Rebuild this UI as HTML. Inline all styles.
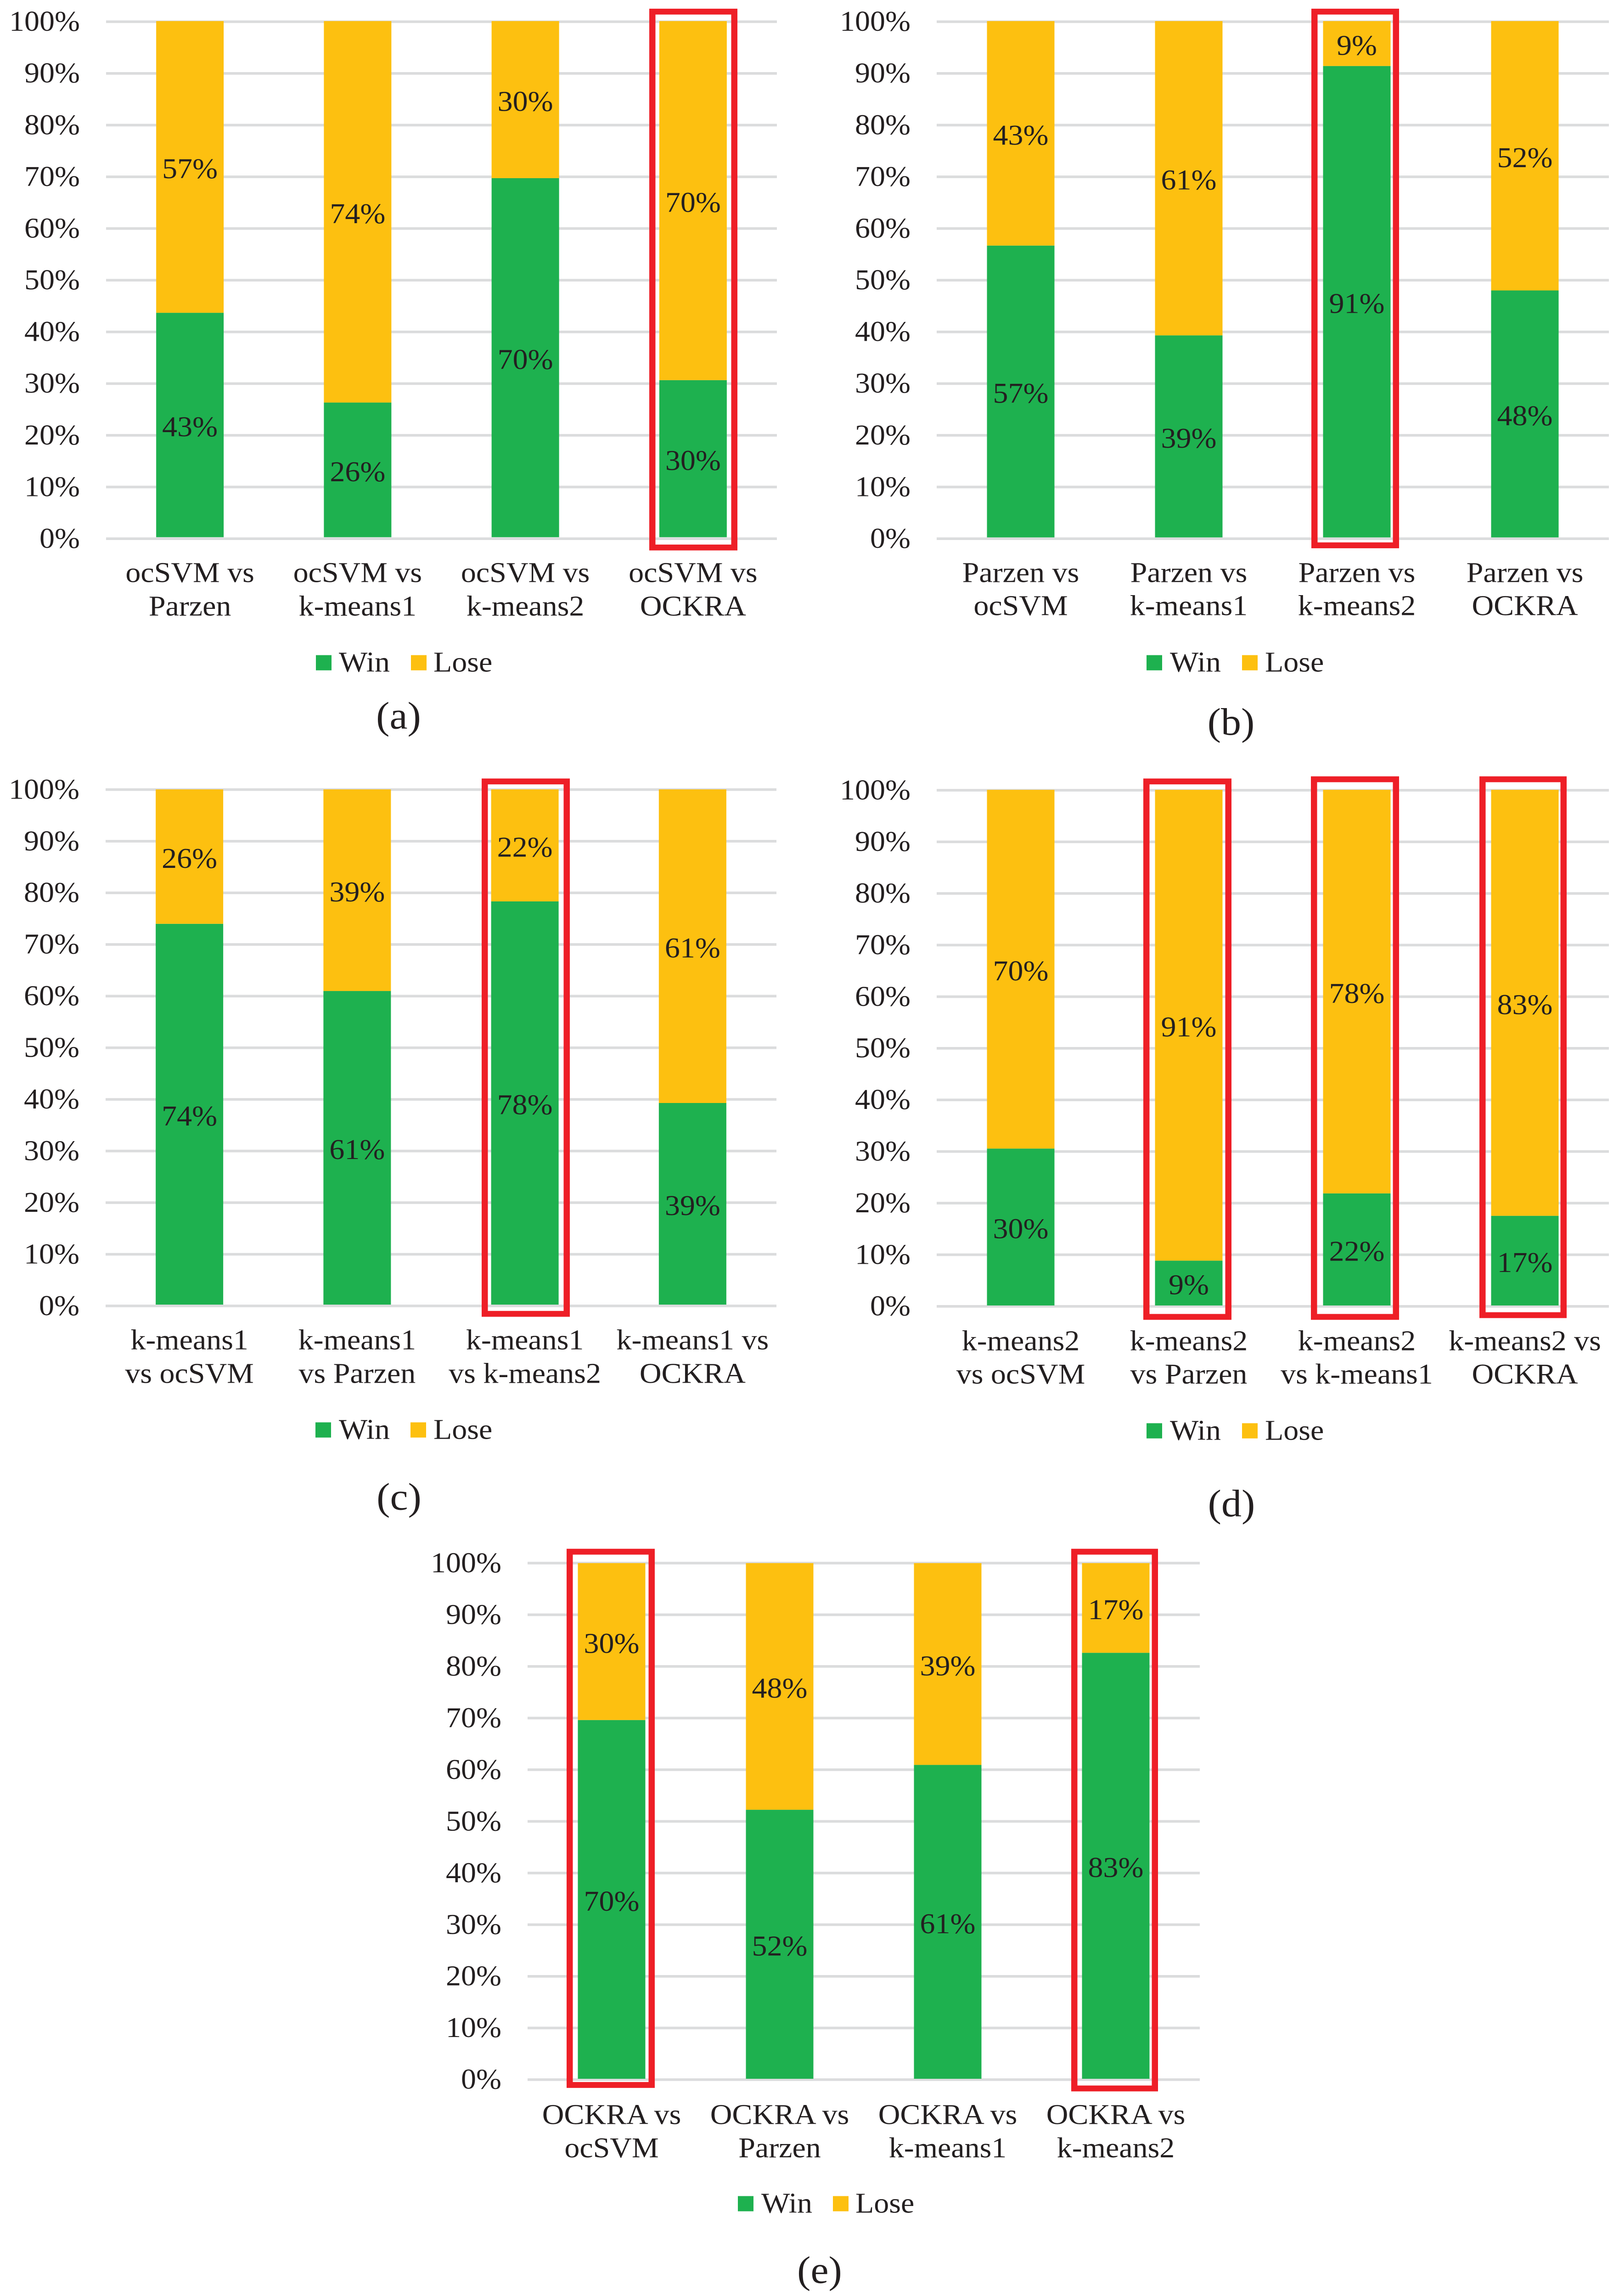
<!DOCTYPE html>
<html lang="en">
<head>
<meta charset="utf-8">
<title>Pairwise win/lose stacked bar charts</title>
<style>
html,body{margin:0;padding:0;background:#fff;overflow:hidden;}
svg{display:block;}
text{font-family:"Liberation Serif",serif;fill:#231f20;}
</style>
</head>
<body>
<svg id="figure" xmlns="http://www.w3.org/2000/svg" width="3526" height="5285" viewBox="0 0 3526 5285" preserveAspectRatio="none">
<rect x="0" y="0" width="3526" height="5285" fill="#ffffff"/>
</svg>
<script>
const tickValues = [0, 10, 20, 30, 40, 50, 60, 70, 80, 90, 100];
const tickLabels = ['0%', '10%', '20%', '30%', '40%', '50%', '60%', '70%', '80%', '90%', '100%'];
const seriesNames = ['Win', 'Lose'];

const categoriesA = ['ocSVM vs|Parzen', 'ocSVM vs|k-means1', 'ocSVM vs|k-means2', 'ocSVM vs|OCKRA'];
const winA = [43.48, 26.09, 69.57, 30.43];
const loseA = [56.52, 73.91, 30.43, 69.57];

const categoriesB = ['Parzen vs|ocSVM', 'Parzen vs|k-means1', 'Parzen vs|k-means2', 'Parzen vs|OCKRA'];
const winB = [56.52, 39.13, 91.30, 47.83];
const loseB = [43.48, 60.87, 8.70, 52.17];

const categoriesC = ['k-means1|vs ocSVM', 'k-means1|vs Parzen', 'k-means1|vs k-means2', 'k-means1 vs|OCKRA'];
const winC = [73.91, 60.87, 78.26, 39.13];
const loseC = [26.09, 39.13, 21.74, 60.87];

const categoriesD = ['k-means2|vs ocSVM', 'k-means2|vs Parzen', 'k-means2|vs k-means1', 'k-means2 vs|OCKRA'];
const winD = [30.43, 8.70, 21.74, 17.39];
const loseD = [69.57, 91.30, 78.26, 82.61];

const categoriesE = ['OCKRA vs|ocSVM', 'OCKRA vs|Parzen', 'OCKRA vs|k-means1', 'OCKRA vs|k-means2'];
const winE = [69.57, 52.17, 60.87, 82.61];
const loseE = [30.43, 47.83, 39.13, 17.39];

const COLORS = {win: '#1eb14f', lose: '#fdc010', grid: '#dbdcdd', box: '#ee1f27'};
const FONT_SIZE = 66;
const CAPTION_SIZE = 88;
const BAR_WIDTH = 147;
const NS = 'http://www.w3.org/2000/svg';
const figure = document.getElementById('figure');

/* Fit the whole figure inside the render frame if the frame is shorter than the drawing. */
const frameHeight = window.innerHeight;
figure.setAttribute('height', frameHeight >= 4000 && frameHeight < 5285 ? frameHeight : 5285);

const panels = [
  {id: 'a', cats: categoriesA, win: winA, lose: loseA,
   layout: {left: 231, width: 1461, gridTop: 50, gridBottom: 1240, barTop: 48.5, barBottom: 1236.5,
            line1: 1340, line2: 1417, swatchWin: 688, textWin: 738, swatchLose: 895, textLose: 944, swatchTop: 1508,
            captionX: 868, captionY: 1677},
   boxes: [[1414, 1606, 20, 1267]]},
  {id: 'b', cats: categoriesB, win: winB, lose: loseB,
   layout: {left: 2040, width: 1464, gridTop: 50, gridBottom: 1240, barTop: 48.5, barBottom: 1237,
            line1: 1340, line2: 1416, swatchWin: 2497, textWin: 2548, swatchLose: 2705, textLose: 2755, swatchTop: 1508,
            captionX: 2681, captionY: 1691},
   boxes: [[2856, 3047, 20, 1262]]},
  {id: 'c', cats: categoriesC, win: winC, lose: loseC,
   layout: {left: 230, width: 1461, gridTop: 1817.5, gridBottom: 3006, barTop: 1817, barBottom: 3003,
            line1: 3106, line2: 3183, swatchWin: 687, textWin: 738, swatchLose: 894, textLose: 944, swatchTop: 3274,
            captionX: 869, captionY: 3475},
   boxes: [[1049, 1241, 1792, 3031]]},
  {id: 'd', cats: categoriesD, win: winD, lose: loseD,
   layout: {left: 2040, width: 1464, gridTop: 1819, gridBottom: 3007, barTop: 1818, barBottom: 3005,
            line1: 3108, line2: 3185, swatchWin: 2497, textWin: 2548, swatchLose: 2705, textLose: 2755, swatchTop: 3276,
            captionX: 2682, captionY: 3490},
   boxes: [[2490, 2682, 1792, 3038], [2855, 3047, 1787, 3038], [3222, 3412, 1787, 3034]]},
  {id: 'e', cats: categoriesE, win: winE, lose: loseE,
   layout: {left: 1149, width: 1464, gridTop: 3598, gridBottom: 4787, barTop: 3598, barBottom: 4785,
            line1: 4889, line2: 4966, swatchWin: 1607, textWin: 1658, swatchLose: 1814, textLose: 1863, swatchTop: 5055,
            captionX: 1785, captionY: 5255},
   boxes: [[1234, 1426, 3565, 4806], [2333, 2522, 3565, 4814]]}
];

function make(tag, attrs, parent, content) {
  const el = document.createElementNS(NS, tag);
  for (const k in attrs) el.setAttribute(k, attrs[k]);
  if (content !== undefined) el.textContent = content;
  parent.appendChild(el);
  return el;
}

function drawPanel(p) {
  const L = p.layout;
  const group = make('g', {}, figure);
  
  

  const gridY = v => L.gridBottom - (v / 100) * (L.gridBottom - L.gridTop);
  const barY = v => L.barBottom - (v / 100) * (L.barBottom - L.barTop);
  const step = L.width / p.cats.length;
  const catX = i => L.left + step * (i + 0.5);

  tickValues.forEach((t, i) => {
    const line = make('rect', {x: L.left, y: gridY(t) - 3, width: L.width, height: 6, fill: COLORS.grid}, group);
    
    
    const label = make('text', {x: L.left - 57, y: gridY(t) + 21, 'text-anchor': 'end', 'font-size': FONT_SIZE}, group, tickLabels[i]);
    
    
  });

  p.cats.forEach((cat, i) => {
    const x = catX(i) - BAR_WIDTH / 2;
    const winTop = barY(p.win[i]);
    const loseTop = barY(p.win[i] + p.lose[i]);

    const winBar = make('rect', {x: x, y: winTop, width: BAR_WIDTH, height: L.barBottom - winTop, fill: COLORS.win}, group);
    
    

    const loseBar = make('rect', {x: x, y: loseTop, width: BAR_WIDTH, height: winTop - loseTop, fill: COLORS.lose}, group);
    
    

    const winValue = make('text', {x: catX(i), y: (winTop + L.barBottom) / 2 + 26, 'text-anchor': 'middle', 'font-size': FONT_SIZE}, group, Math.round(p.win[i]) + '%');
    
    

    const loseValue = make('text', {x: catX(i), y: (loseTop + winTop) / 2 + 26, 'text-anchor': 'middle', 'font-size': FONT_SIZE}, group, Math.round(p.lose[i]) + '%');
    
    

    const parts = cat.split('|');
    const catLabel = make('text', {'text-anchor': 'middle', 'font-size': FONT_SIZE}, group);
    
    
    make('tspan', {x: catX(i), y: L.line1}, catLabel, parts[0]);
    make('tspan', {x: catX(i), y: L.line2}, catLabel, parts[1]);
  });

  p.boxes.forEach((b, i) => {
    const sw = 13.5;
    const box = make('rect', {x: b[0] + sw / 2, y: b[2] + sw / 2, width: b[1] - b[0] - sw, height: b[3] - b[2] - sw, fill: 'none', stroke: COLORS.box, 'stroke-width': sw}, group);
    
    
  });

  const winSwatch = make('rect', {x: L.swatchWin, y: L.swatchTop, width: 34, height: 35, fill: COLORS.win}, group);
  
  
  const winText = make('text', {x: L.textWin, y: L.swatchTop + 38, 'font-size': FONT_SIZE}, group, seriesNames[0]);
  
  
  const loseSwatch = make('rect', {x: L.swatchLose, y: L.swatchTop, width: 34, height: 35, fill: COLORS.lose}, group);
  
  
  const loseText = make('text', {x: L.textLose, y: L.swatchTop + 38, 'font-size': FONT_SIZE}, group, seriesNames[1]);
  
  

  const caption = make('text', {x: L.captionX, y: L.captionY, 'text-anchor': 'middle', 'font-size': CAPTION_SIZE}, group, '(' + p.id + ')');
  
  
}

panels.forEach(drawPanel);
</script>
</body>
</html>
